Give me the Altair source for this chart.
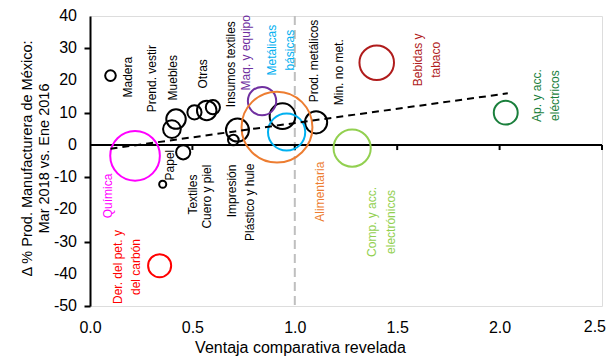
import math
import altair as alt
import pandas as pd

# ---- bubble data ----
sectores = ["Madera", "Prend. vestir", "Muebles", "Papel", "Textiles", "Impresión",
            "Otras", "Cuero y piel", "Insumos textiles", "Plástico y hule",
            "Prod. metálicos", "Min. no met.",
            "Química", "Der. del pet. y del carbón", "Maq. y equipo", "Alimentaria",
            "Metálicas básicas", "Comp. y acc. electrónicos", "Bebidas y tabaco",
            "Ap. y acc. eléctricos"]
vcr = [0.10, 0.42, 0.40, 0.355, 0.455, 0.51, 0.57, 0.60, 0.72, 0.70, 0.94, 1.104,
       0.22, 0.34, 0.84, 0.913, 0.96, 1.28, 1.40, 2.03]
delta = [21.5, 8.0, 4.9, -12.2, -2.3, 10.1, 10.7, 11.7, 4.6, 1.5, 8.9, 7.0,
         -3.4, -37.5, 13.6, 5.5, 4.0, -1.0, 25.5, 10.0]
peso = [0.36, 1.21, 1.0, 0.16, 0.64, 0.64, 1.21, 0.64, 1.69, 0.36, 2.1, 1.56,
        7.84, 1.69, 2.56, 16.0, 4.41, 4.41, 3.8, 1.82]

# highlighted sectors and their colours
destacados = ["Química", "Der. del pet. y del carbón", "Maq. y equipo", "Alimentaria",
              "Metálicas básicas", "Comp. y acc. electrónicos", "Bebidas y tabaco",
              "Ap. y acc. eléctricos", "Otros"]
colores = ["#FF00FF", "#FF0000", "#7030A0", "#ED7D31", "#00B0F0", "#92D050",
           "#B01C1C", "#1A7F3C", "#000000"]

# ---- labels ----
etiquetas = ["Madera", "Prend. vestir", "Muebles", "Otras", "Insumos textiles",
             "Maq. y equipo", "Prod.  metálicos", "Min. no met.",
             "Química", "Papel", "Textiles", "Cuero y piel", "Impresión",
             "Plástico y hule", "Alimentaria",
             "Metálicas", "básicas", "Bebidas y", "tabaco", "Ap. y acc.", "eléctricos",
             "Der. del pet.  y", "del carbón", "Comp. y acc.", "electrónicos"]
etiqueta_grupo = ["Otros", "Otros", "Otros", "Otros", "Otros",
                  "Maq. y equipo", "Otros", "Otros",
                  "Química", "Otros", "Otros", "Otros", "Otros", "Otros", "Alimentaria",
                  "Metálicas básicas", "Metálicas básicas", "Bebidas y tabaco",
                  "Bebidas y tabaco", "Ap. y acc. eléctricos", "Ap. y acc. eléctricos",
                  "Der. del pet. y del carbón", "Der. del pet. y del carbón",
                  "Comp. y acc. electrónicos", "Comp. y acc. electrónicos"]
etiqueta_x = [0.186, 0.303, 0.405, 0.552, 0.688, 0.762, 1.094, 1.216,
              0.088, 0.391, 0.503, 0.571, 0.693, 0.781, 1.123,
              0.889, 0.977, 1.602, 1.689, 2.183, 2.271, 0.137, 0.225, 1.377, 1.470]
etiqueta_y = [14.7, 10.1, 13.8, 17.5, 11.7, 16.9, 13.2, 12.3,
              -8.9, -1.5, -9.2, -6.1, -6.1, -5.8, -5.2,
              29.4, 29.4, 26.4, 26.4, 15.3, 15.3, -37.9, -37.9, -23.9, -23.9]
etiqueta_alin = ["left"] * 8 + ["right"] * 7 + ["center"] * 10

# trend line endpoints
tend_x = [0.10, 2.04]
tend_y = [-1.2, 16.0]

x_ticks = [0.5, 1.0, 1.5, 2.0, 2.5]
y_ticks = [-50, -40, -30, -20, -10, 0, 10, 20, 30, 40]
x_labels = [0.0, 0.5, 1.0, 1.5, 2.0, 2.5]

df = pd.DataFrame({"sector": sectores, "vcr": vcr, "delta": delta, "peso": peso})
df["grupo"] = [s if s in destacados else "Otros" for s in sectores]
lab = pd.DataFrame({"texto": etiquetas, "grupo": etiqueta_grupo, "x": etiqueta_x,
                    "y": etiqueta_y, "alin": etiqueta_alin})
tend = pd.DataFrame({"x": tend_x, "y": tend_y})
ticks = pd.DataFrame({"x": x_ticks, "y": [0] * len(x_ticks), "y2": [-1.6] * len(x_ticks)})
ref = pd.DataFrame({"x": [1.0], "y": [40], "y2": [-50]})
zero = pd.DataFrame({"x": [0.0], "x2": [2.5], "y": [0]})
ylab = pd.DataFrame({"x": [0.0] * len(y_ticks), "y": y_ticks,
                     "t": [str(v) for v in y_ticks]})
# last x label drawn as text so that it stays inside the page
xlab_last = pd.DataFrame({"x": [x_labels[-1]], "y": [-50], "t": [f"{x_labels[-1]:.1f}"]})

FONT = "Liberation Sans"
xs = alt.Scale(domain=[0, 2.5], nice=False, zero=False)
ys = alt.Scale(domain=[-50, 40], nice=False, zero=False)
cs = alt.Scale(domain=destacados, range=colores)

x_axis = alt.Axis(values=x_labels[:-1], format=".1f", domain=False, ticks=False,
                  tickSize=0, grid=False, labelFontSize=16, labelPadding=13,
                  labelFlush=False, labelOverlap=False, labelBound=False,
                  labelColor="#000000", labelFont=FONT,
                  title="Ventaja comparativa revelada", titleFontSize=16,
                  titleFontWeight="normal", titleColor="#000000", titleFont=FONT,
                  titleX=210, titleY=33, titleBaseline="top", titleAlign="center")
y_axis = alt.Axis(values=y_ticks, domain=True, domainColor="#000000",
                  domainWidth=2, ticks=True, tickColor="#000000", tickWidth=2, tickSize=6,
                  grid=False, labels=False,
                  title=["Δ % Prod. Manufacturera de México:", "Mar 2018 vs. Ene 2016"],
                  titleFontSize=14.5, titleFontWeight="normal", titleColor="#000000",
                  titleFont=FONT, titleX=-63, titleY=142, titleBaseline="middle",
                  titleAlign="center", titleAngle=270, titleLineHeight=17)

base_axes = alt.Chart(df).mark_point(opacity=0).encode(
    x=alt.X("vcr:Q", scale=xs, axis=x_axis),
    y=alt.Y("delta:Q", scale=ys, axis=y_axis),
)

y_labels = alt.Chart(ylab).mark_text(
    align="right", baseline="middle", dx=-13, fontSize=16, font=FONT, color="#000000"
).encode(x=alt.X("x:Q", scale=xs), y=alt.Y("y:Q", scale=ys), text="t:N")

x_label_last = alt.Chart(xlab_last).mark_text(
    align="right", baseline="top", dx=4, dy=13, fontSize=16, font=FONT, color="#000000"
).encode(x=alt.X("x:Q", scale=xs), y=alt.Y("y:Q", scale=ys), text="t:N")

ref_line = alt.Chart(ref).mark_rule(
    color="#BFBFBF", strokeWidth=2, strokeDash=[9, 5]
).encode(x=alt.X("x:Q", scale=xs), y=alt.Y("y:Q", scale=ys), y2="y2:Q")

zero_line = alt.Chart(zero).mark_rule(color="#000000", strokeWidth=2).encode(
    x=alt.X("x:Q", scale=xs), x2="x2:Q", y=alt.Y("y:Q", scale=ys))

tick_marks = alt.Chart(ticks).mark_rule(color="#000000", strokeWidth=2).encode(
    x=alt.X("x:Q", scale=xs), y=alt.Y("y:Q", scale=ys), y2="y2:Q")

bubbles = alt.Chart(df).mark_point(filled=False, shape="circle", strokeWidth=2,
                                   opacity=1).encode(
    x=alt.X("vcr:Q", scale=xs),
    y=alt.Y("delta:Q", scale=ys),
    size=alt.Size("peso:Q", scale=alt.Scale(domain=[0, 16], range=[0, math.pi * 40 ** 2]),
                  legend=None),
    color=alt.Color("grupo:N", scale=cs, legend=None),
)

trend = alt.Chart(tend).mark_line(color="#000000", strokeWidth=2, strokeDash=[7, 5]).encode(
    x=alt.X("x:Q", scale=xs), y=alt.Y("y:Q", scale=ys))

def label_layer(alin):
    return alt.Chart(lab).transform_filter(alt.datum.alin == alin).mark_text(
        angle=270, align=alin, baseline="middle", fontSize=12, font=FONT
    ).encode(
        x=alt.X("x:Q", scale=xs),
        y=alt.Y("y:Q", scale=ys),
        text="texto:N",
        color=alt.Color("grupo:N", scale=cs, legend=None),
    )

chart = alt.layer(
    base_axes, y_labels, x_label_last, ref_line, zero_line, tick_marks, bubbles, trend,
    label_layer("left"), label_layer("right"), label_layer("center")
).properties(
    width=512, height=290,
    autosize=alt.AutoSizeParams(type="none"),
    padding={"left": 82, "top": 8, "right": 4, "bottom": 52},
).configure_view(stroke=None).configure(font=FONT).configure_axis(
    labelOverlap=False, labelFlush=False, labelBound=False
)

chart.save("out.html", embed_options={"renderer": "svg", "actions": False})
